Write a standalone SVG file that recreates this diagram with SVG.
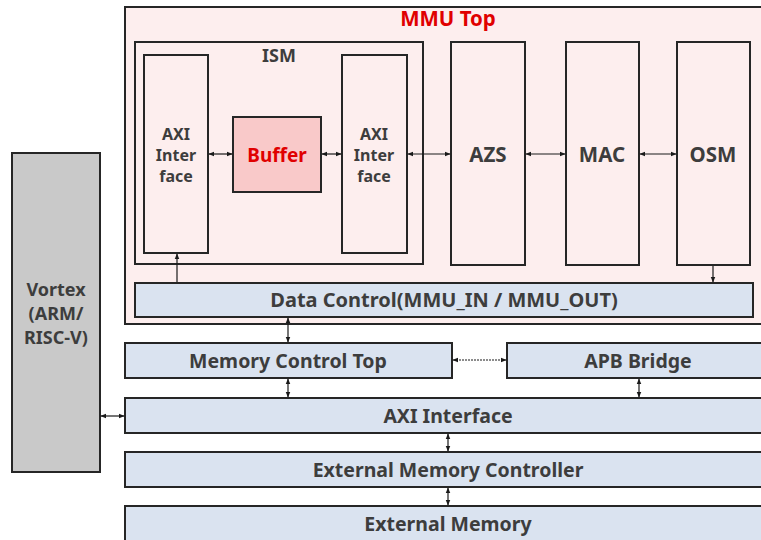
<svg xmlns="http://www.w3.org/2000/svg" width="761" height="540" viewBox="0 0 761 540">
<defs>
<marker id="ah" viewBox="0 0 10 10" refX="9" refY="5" markerWidth="6" markerHeight="6" orient="auto-start-reverse" markerUnits="userSpaceOnUse">
<path d="M0,1 L10,5 L0,9 z" fill="#1a1a1a"/>
</marker>
<style>
.box{stroke:#262626;stroke-width:2}
.pink{fill:#fdeeee}
.blue{fill:#dae3f0}
.t{font-family:"Noto Sans","Open Sans",sans-serif;font-weight:bold;fill:#3d3d3d;text-anchor:middle}
.red{fill:#e00000}
.c{stroke:#1a1a1a;stroke-width:1.2;fill:none}
</style>
</defs>
<rect width="761" height="540" fill="#ffffff"/>
<g id="mmu_top">
<rect class="box pink" x="125" y="7" width="640" height="317"/>
<text class="t red" x="448" y="26" font-size="20.5">MMU Top</text>
</g>
<g id="ism">
<rect class="box" x="135" y="42" width="288" height="222" fill="none"/>
<text class="t" x="279" y="62" font-size="18">ISM</text>
</g>
<g id="axi_left">
<rect class="box pink" x="144" y="55" width="64" height="198"/>
<text class="t" x="176" y="140" font-size="16">AXI</text>
<text class="t" x="176" y="161" font-size="16">Inter</text>
<text class="t" x="176" y="182" font-size="16">face</text>
</g>
<g id="buffer">
<rect class="box" x="233" y="117" width="88" height="75" fill="#f9c9c9"/>
<text class="t red" x="277" y="162" font-size="19">Buffer</text>
</g>
<g id="axi_right">
<rect class="box pink" x="342" y="55" width="65" height="198"/>
<text class="t" x="374" y="140" font-size="16">AXI</text>
<text class="t" x="374" y="161" font-size="16">Inter</text>
<text class="t" x="374" y="182" font-size="16">face</text>
</g>
<g id="azs">
<rect class="box pink" x="451" y="42" width="74" height="223"/>
<text class="t" x="488" y="162" font-size="20.5">AZS</text>
</g>
<g id="mac">
<rect class="box pink" x="566" y="42" width="73" height="223"/>
<text class="t" x="602" y="162" font-size="20.5">MAC</text>
</g>
<g id="osm">
<rect class="box pink" x="677" y="42" width="73" height="223"/>
<text class="t" x="713" y="162" font-size="20.5">OSM</text>
</g>
<g id="data_control">
<rect class="box blue" x="135" y="283" width="618" height="34"/>
<text class="t" x="444" y="307" font-size="20">Data Control(MMU_IN / MMU_OUT)</text>
</g>
<g id="vortex">
<rect class="box" x="12" y="153" width="88" height="319" fill="#c9c9c9"/>
<text class="t" x="56" y="296" font-size="18">Vortex</text>
<text class="t" x="56" y="320" font-size="18">(ARM/</text>
<text class="t" x="56" y="344" font-size="18">RISC-V)</text>
</g>
<g id="memory_control_top">
<rect class="box blue" x="125" y="343" width="327" height="35"/>
<text class="t" x="288" y="368" font-size="19.5">Memory Control Top</text>
</g>
<g id="apb_bridge">
<rect class="box blue" x="507" y="343" width="260" height="35"/>
<text class="t" x="638" y="368" font-size="19.5">APB Bridge</text>
</g>
<g id="axi_interface">
<rect class="box blue" x="125" y="398" width="642" height="35"/>
<text class="t" x="448" y="423" font-size="19.5">AXI Interface</text>
</g>
<g id="ext_mem_ctrl">
<rect class="box blue" x="125" y="452" width="642" height="35"/>
<text class="t" x="448" y="477" font-size="19.5">External Memory Controller</text>
</g>
<g id="ext_mem">
<rect class="box blue" x="125" y="506" width="642" height="40"/>
<text class="t" x="448" y="531" font-size="19.5">External Memory</text>
</g>
<g id="connectors">
<line class="c" x1="209" y1="154" x2="232" y2="154" marker-start="url(#ah)" marker-end="url(#ah)"/>
<line class="c" x1="322" y1="154" x2="341" y2="154" marker-start="url(#ah)" marker-end="url(#ah)"/>
<line class="c" x1="408" y1="154" x2="450" y2="154" marker-start="url(#ah)" marker-end="url(#ah)"/>
<line class="c" x1="526" y1="154" x2="565" y2="154" marker-start="url(#ah)" marker-end="url(#ah)"/>
<line class="c" x1="640" y1="154" x2="676" y2="154" marker-start="url(#ah)" marker-end="url(#ah)"/>
<line class="c" x1="177" y1="282" x2="177" y2="254" marker-end="url(#ah)"/>
<line class="c" x1="713" y1="266" x2="713" y2="282" marker-end="url(#ah)"/>
<line class="c" x1="288" y1="318" x2="288" y2="342" marker-start="url(#ah)" marker-end="url(#ah)"/>
<line class="c" x1="453" y1="360" x2="506" y2="360" stroke-dasharray="2,1" marker-start="url(#ah)" marker-end="url(#ah)"/>
<line class="c" x1="288" y1="379" x2="288" y2="397" marker-start="url(#ah)" marker-end="url(#ah)"/>
<line class="c" x1="639" y1="379" x2="639" y2="397" marker-start="url(#ah)" marker-end="url(#ah)"/>
<line class="c" x1="101" y1="416" x2="124" y2="416" marker-start="url(#ah)" marker-end="url(#ah)"/>
<line class="c" x1="448" y1="434" x2="448" y2="451" marker-start="url(#ah)" marker-end="url(#ah)"/>
<line class="c" x1="448" y1="488" x2="448" y2="505" marker-start="url(#ah)" marker-end="url(#ah)"/>
</g>
</svg>
